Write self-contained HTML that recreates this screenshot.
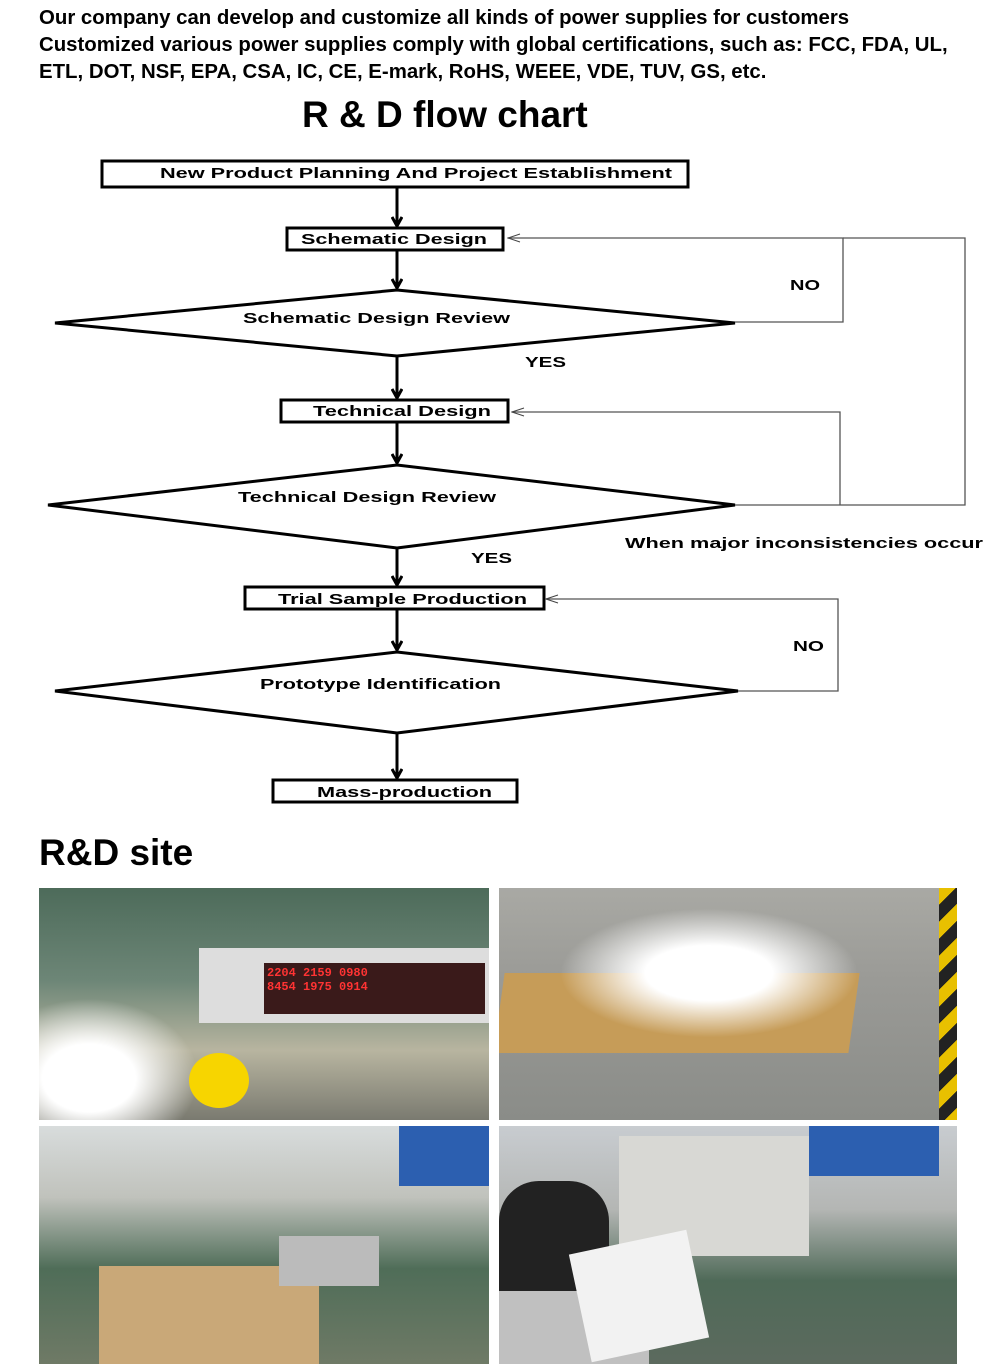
<!DOCTYPE html>
<html><head><meta charset="utf-8"><style>
body{margin:0;width:1000px;height:1364px;background:#fff;position:relative;overflow:hidden;font-family:"Liberation Sans",sans-serif}
.t{position:absolute;left:39px;font-weight:bold;font-size:20.4px;color:#000;white-space:nowrap}
.p{position:absolute;overflow:hidden}
</style></head><body>
<div class="t" style="top:7px">Our company can develop and customize all kinds of power supplies for customers</div>
<div class="t" style="top:34px">Customized various power supplies comply with global certifications, such as: FCC, FDA, UL,</div>
<div class="t" style="top:61px">ETL, DOT, NSF, EPA, CSA, IC, CE, E-mark, RoHS, WEEE, VDE, TUV, GS, etc.</div>
<div style="position:absolute;left:302px;top:94px;font-weight:bold;font-size:37px;white-space:nowrap">R &amp; D flow chart</div>
<svg width="1000" height="820" style="position:absolute;left:0;top:0" font-family="Liberation Sans, sans-serif" font-weight="bold" font-size="15">
<defs><marker id="a" markerWidth="12" markerHeight="12" refX="10" refY="6" orient="auto" markerUnits="userSpaceOnUse"><path d="M1,1 L10,6 L1,11" fill="none" stroke="#000" stroke-width="3"/></marker>
<marker id="o" markerWidth="14" markerHeight="10" refX="13" refY="5" orient="auto" markerUnits="userSpaceOnUse"><path d="M1,1 L13,5 L1,9" fill="none" stroke="#444" stroke-width="1"/></marker></defs>
<g fill="#fff" stroke="#000" stroke-width="3">
<rect x="102" y="161" width="586" height="26"/>
<rect x="287" y="228" width="216" height="22"/>
<polygon points="55,323 397,290 735,323 397,356"/>
<rect x="281" y="400" width="227" height="22"/>
<polygon points="48,505 397,465 735,505 397,548"/>
<rect x="245" y="587" width="299" height="22"/>
<polygon points="55,691 397,652 738,691 397,733"/>
<rect x="273" y="780" width="244" height="22"/>
</g>
<g stroke="#000" stroke-width="3" marker-end="url(#a)">
<line x1="397" y1="188" x2="397" y2="226"/>
<line x1="397" y1="251" x2="397" y2="288"/>
<line x1="397" y1="357" x2="397" y2="398"/>
<line x1="397" y1="423" x2="397" y2="463"/>
<line x1="397" y1="549" x2="397" y2="585"/>
<line x1="397" y1="610" x2="397" y2="650"/>
<line x1="397" y1="734" x2="397" y2="778"/>
</g>
<g fill="none" stroke="#555" stroke-width="1.3">
<polyline points="735,322 843,322 843,238 508,238" marker-end="url(#o)"/>
<polyline points="735,505 965,505 965,238 843,238"/>
<polyline points="840,505 840,412 512,412" marker-end="url(#o)"/>
<polyline points="738,691 838,691 838,599 546,599" marker-end="url(#o)"/>
</g>
<g fill="#000" lengthAdjust="spacingAndGlyphs">
<text x="160" y="178" textLength="512" lengthAdjust="spacingAndGlyphs">New Product Planning And Project Establishment</text>
<text x="301" y="244" textLength="186" lengthAdjust="spacingAndGlyphs">Schematic Design</text>
<text x="243" y="323" textLength="267" lengthAdjust="spacingAndGlyphs">Schematic Design Review</text>
<text x="313" y="416" textLength="178" lengthAdjust="spacingAndGlyphs">Technical Design</text>
<text x="238" y="502" textLength="258" lengthAdjust="spacingAndGlyphs">Technical Design Review</text>
<text x="278" y="604" textLength="249" lengthAdjust="spacingAndGlyphs">Trial Sample Production</text>
<text x="260" y="689" textLength="241" lengthAdjust="spacingAndGlyphs">Prototype Identification</text>
<text x="317" y="797" textLength="175" lengthAdjust="spacingAndGlyphs">Mass-production</text>
<text x="790" y="290" textLength="30" lengthAdjust="spacingAndGlyphs">NO</text>
<text x="525" y="367" textLength="41" lengthAdjust="spacingAndGlyphs">YES</text>
<text x="471" y="563" textLength="41" lengthAdjust="spacingAndGlyphs">YES</text>
<text x="793" y="651" textLength="31" lengthAdjust="spacingAndGlyphs">NO</text>
<text x="625" y="548" textLength="358" lengthAdjust="spacingAndGlyphs">When major inconsistencies occur</text>
</g>
</svg>
<div style="position:absolute;left:39px;top:832px;font-weight:bold;font-size:37px">R&amp;D site</div>
<div class="p" style="left:39px;top:888px;width:450px;height:232px;background:linear-gradient(180deg,#4d6b5a 0%,#6d8677 40%,#b8b5a0 70%,#7a7a70 100%)">
<div style="position:absolute;left:160px;top:60px;width:290px;height:75px;background:#ddd;"></div>
<div style="position:absolute;left:225px;top:75px;width:215px;height:45px;background:#3a1a1a;color:#f33;font:bold 12px 'Liberation Mono',monospace;padding:3px">2204 2159 0980<br>8454 1975 0914</div>
<div style="position:absolute;left:-60px;top:110px;width:220px;height:160px;border-radius:50%;background:radial-gradient(#fff 30%,rgba(255,255,255,0) 70%)"></div>
<div style="position:absolute;left:150px;top:165px;width:60px;height:55px;border-radius:50%;background:#f7d500"></div>
</div>
<div class="p" style="left:499px;top:888px;width:458px;height:232px;background:linear-gradient(180deg,#a9a9a4 0%,#9a9a96 40%,#8a8c88 100%)">
<div style="position:absolute;left:0;top:85px;width:355px;height:80px;background:#c69c58;transform:skewX(-8deg)"></div>
<div style="position:absolute;left:60px;top:20px;width:300px;height:130px;border-radius:50%;background:radial-gradient(#fff 30%,rgba(255,255,255,0) 70%)"></div>
<div style="position:absolute;left:440px;top:0;width:18px;height:232px;background:repeating-linear-gradient(135deg,#e8c000 0 12px,#222 12px 24px)"></div>
</div>
<div class="p" style="left:39px;top:1126px;width:450px;height:238px;background:linear-gradient(180deg,#d8dcdc 0%,#c0c2bc 30%,#4f6d58 60%,#6f7a66 100%)">
<div style="position:absolute;left:360px;top:0;width:90px;height:60px;background:#2c5fb0"></div>
<div style="position:absolute;left:60px;top:140px;width:220px;height:100px;background:#c9a878"></div>
<div style="position:absolute;left:240px;top:110px;width:100px;height:50px;background:#bbb"></div>
</div>
<div class="p" style="left:499px;top:1126px;width:458px;height:238px;background:linear-gradient(180deg,#c8ccd0 0%,#b4b6b4 35%,#4f6a58 65%,#5c6a5e 100%)">
<div style="position:absolute;left:310px;top:0;width:130px;height:50px;background:#2c5fb0"></div>
<div style="position:absolute;left:120px;top:10px;width:190px;height:120px;background:#d8d8d4"></div>
<div style="position:absolute;left:0;top:55px;width:110px;height:183px;background:#222;border-radius:40px 40px 0 0"></div>
<div style="position:absolute;left:0;top:165px;width:150px;height:73px;background:#c0c0c0"></div>
<div style="position:absolute;left:80px;top:115px;width:120px;height:110px;background:#f2f2f2;transform:rotate(-12deg)"></div>
</div>
</body></html>
